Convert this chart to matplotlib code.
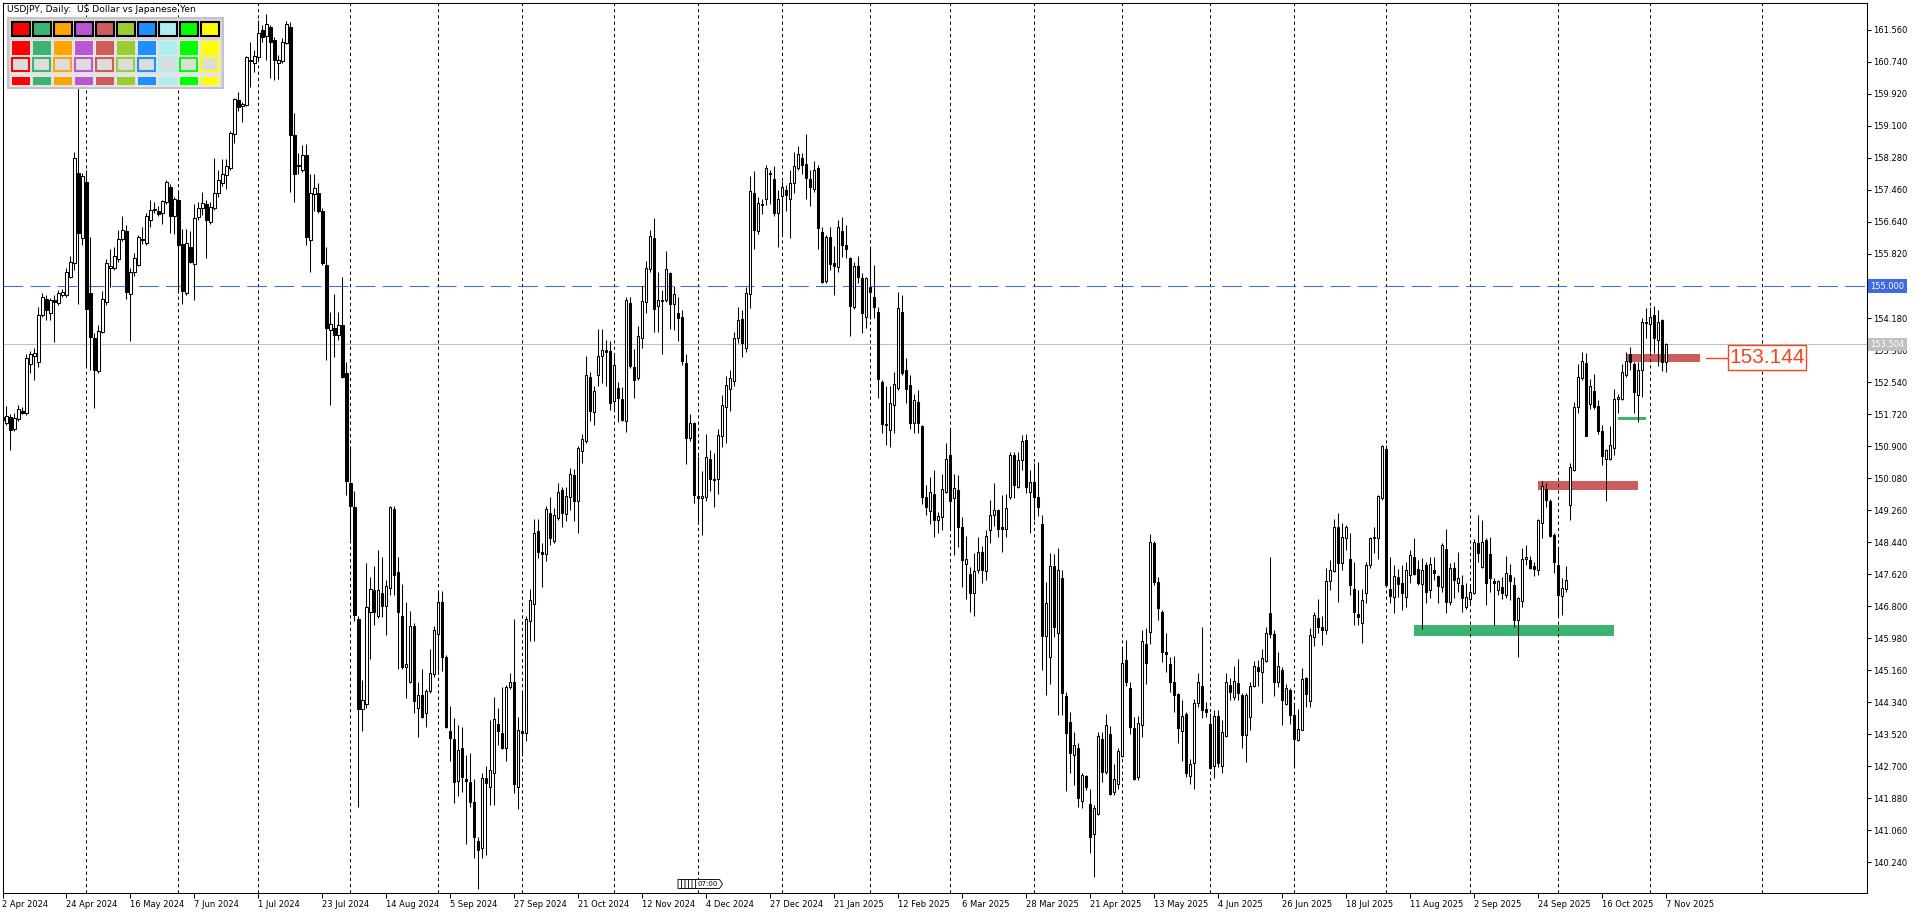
import numpy as np
import pandas as pd
import matplotlib
matplotlib.use("Agg")
import matplotlib.pyplot as plt
from matplotlib.patches import Rectangle, Polygon
import matplotlib.transforms as mtransforms

# USDJPY daily bars, 2 Apr 2024 .. 7 Nov 2025
opens = [
    151.65, 151.50, 151.65, 151.35, 151.60, 151.80, 151.75, 153.00, 153.20, 153.05,
    154.26, 154.68, 154.30, 154.64, 154.57, 154.77, 154.77, 155.22, 155.60, 157.90,
    156.22, 157.67, 154.83, 153.66, 152.83, 153.83, 154.60, 155.45, 155.45, 155.68,
    156.20, 156.42, 154.79, 155.37, 155.54, 156.17, 156.11, 156.70, 156.95, 156.92,
    156.86, 157.16, 157.54, 156.78, 157.20, 156.07, 154.83, 156.00, 155.56, 156.76,
    157.01, 157.10, 156.65, 156.99, 157.39, 157.65, 157.84, 158.01, 158.89, 159.76,
    159.61, 159.64, 160.80, 160.70, 160.86, 161.56, 161.40, 161.62, 161.30, 160.72,
    160.77, 161.23, 161.62, 158.87, 158.10, 157.97, 158.35, 156.19, 157.36, 157.39,
    156.93, 155.54, 153.87, 153.92, 153.74, 154.00, 152.78, 149.95, 149.34, 146.46,
    144.18, 144.29, 146.64, 147.21, 146.55, 147.13, 146.80, 147.27, 149.28, 147.68,
    146.56, 145.25, 144.87, 146.29, 144.20, 144.53, 144.06, 144.62, 145.06, 146.08,
    146.90, 145.49, 143.61, 143.39, 142.33, 143.16, 142.37, 142.31, 141.78, 140.78,
    140.60, 142.39, 142.17, 142.53, 143.78, 143.55, 143.18, 144.74, 144.86, 142.17,
    143.60, 143.55, 146.41, 146.86, 148.73, 148.20, 148.13, 149.19, 148.48, 149.07,
    149.78, 149.16, 149.60, 150.16, 149.50, 150.77, 151.04, 152.66, 151.78, 152.72,
    153.22, 153.36, 153.33, 152.05, 152.39, 152.10, 151.54, 154.56, 152.92, 152.64,
    153.68, 154.60, 155.43, 156.24, 154.48, 154.65, 154.65, 155.33, 154.54, 154.30,
    154.20, 153.02, 151.10, 151.50, 149.62, 149.56, 149.59, 150.56, 150.07, 150.05,
    151.16, 151.90, 152.35, 152.58, 153.66, 154.15, 153.40, 154.80, 157.37, 156.42,
    157.10, 157.24, 157.90, 157.73, 156.86, 157.30, 157.46, 157.22, 157.63, 158.01,
    158.29, 158.12, 157.73, 157.48, 158.01, 156.39, 155.14, 156.26, 155.58, 155.48,
    156.42, 156.05, 155.71, 154.47, 155.51, 155.20, 154.21, 154.98, 154.71, 154.34,
    152.55, 151.47, 151.31, 151.95, 152.40, 154.34, 152.85, 152.46, 151.48, 152.04,
    151.41, 149.59, 149.25, 149.67, 149.02, 149.08, 149.73, 150.67, 149.56, 149.78,
    148.82, 147.88, 147.62, 147.15, 147.73, 148.20, 147.71, 148.74, 149.14, 149.26,
    148.82, 148.77, 149.59, 150.67, 149.86, 150.54, 151.06, 149.73, 149.99, 149.59,
    148.91, 146.04, 145.49, 147.83, 146.11, 147.51, 144.50, 143.84, 142.99, 143.16,
    141.82, 142.45, 141.73, 140.96, 141.49, 143.40, 142.55, 143.54, 142.03, 142.25,
    142.96, 145.41, 144.70, 143.67, 142.42, 143.76, 145.83, 146.15, 148.41, 147.43,
    146.66, 145.64, 145.32, 144.87, 144.56, 143.60, 144.04, 142.45, 142.78, 144.33,
    144.76, 144.18, 143.79, 142.70, 144.00, 142.71, 143.47, 144.78, 144.48, 144.84,
    144.53, 143.51, 143.97, 144.76, 145.24, 145.11, 145.40, 146.63, 146.10, 144.87,
    145.17, 144.30, 144.65, 144.01, 143.37, 143.63, 144.95, 144.38, 146.00, 146.50,
    146.28, 146.20, 147.45, 147.70, 148.84, 147.90, 148.54, 148.00, 147.23, 146.60,
    146.37, 147.15, 147.86, 148.54, 148.54, 149.56, 150.82, 147.23, 147.04, 147.54,
    147.40, 147.03, 147.60, 148.06, 147.75, 147.36, 147.85, 147.22, 147.73, 147.57,
    147.29, 148.26, 146.92, 147.77, 147.40, 147.34, 146.79, 146.98, 147.14, 148.41,
    147.81, 148.50, 148.14, 147.44, 147.22, 147.29, 147.08, 147.60, 147.34, 146.45,
    146.94, 148.00, 147.99, 147.83, 147.73, 148.94, 149.79, 149.50, 148.62, 147.86,
    147.07, 147.23, 149.39, 150.29, 151.89, 152.64, 153.04, 151.98, 152.31, 151.93,
    151.28, 150.56, 150.58, 150.85, 152.10, 152.10, 152.73, 153.27, 153.01, 152.22,
    152.84, 154.04, 154.03, 154.26, 153.63, 154.12, 153.06,
]
highs = [
    151.77, 151.93, 151.72, 151.76, 151.95, 151.90, 153.26, 153.34, 153.40, 154.45,
    154.81, 154.77, 154.70, 154.77, 154.90, 154.92, 155.45, 155.77, 158.44, 160.20,
    157.90, 157.97, 156.26, 153.79, 154.00, 154.88, 155.69, 155.96, 156.00, 156.43,
    156.78, 156.55, 155.45, 155.84, 156.31, 156.52, 156.87, 157.20, 157.14, 157.05,
    157.21, 157.71, 157.62, 157.28, 157.46, 156.47, 156.47, 156.42, 157.09, 157.16,
    157.40, 157.20, 157.16, 158.27, 157.97, 158.24, 158.24, 158.96, 159.82, 159.97,
    159.72, 160.88, 161.26, 161.05, 161.81, 161.69, 161.97, 161.68, 161.38, 160.91,
    161.34, 161.79, 161.77, 159.44, 158.40, 158.61, 158.63, 157.88, 157.88, 157.63,
    156.99, 156.01, 154.34, 154.80, 154.34, 155.24, 153.05, 150.90, 149.76, 146.54,
    144.90, 147.90, 147.54, 147.84, 148.24, 148.05, 147.48, 149.37, 149.37, 148.07,
    147.36, 146.92, 146.67, 146.37, 144.85, 145.20, 144.68, 145.71, 146.29, 147.22,
    147.20, 145.55, 144.25, 143.93, 143.77, 143.70, 142.98, 143.04, 142.37, 140.90,
    142.53, 142.72, 143.88, 144.47, 144.19, 144.73, 144.77, 145.09, 146.48, 143.96,
    144.60, 146.54, 147.24, 149.03, 149.03, 148.41, 149.36, 149.60, 149.31, 149.96,
    149.86, 149.86, 150.34, 150.31, 150.90, 151.20, 153.20, 152.80, 152.43, 153.89,
    153.89, 153.62, 153.60, 153.27, 152.55, 152.41, 154.72, 154.72, 153.39, 153.97,
    155.00, 155.63, 156.44, 156.75, 155.37, 154.89, 155.90, 155.36, 155.00, 154.72,
    154.39, 153.26, 151.72, 151.52, 150.65, 150.27, 151.22, 150.80, 150.73, 151.35,
    152.21, 152.69, 152.86, 153.83, 154.47, 154.39, 154.98, 157.82, 157.95, 157.27,
    157.22, 158.09, 157.97, 158.07, 157.46, 157.70, 157.59, 157.97, 158.42, 158.59,
    158.41, 158.89, 157.97, 158.19, 158.10, 156.52, 156.31, 156.52, 156.02, 156.69,
    156.76, 156.57, 155.73, 155.62, 155.77, 155.33, 155.24, 155.96, 155.54, 154.47,
    152.59, 152.45, 152.45, 152.81, 154.84, 154.76, 153.15, 152.72, 152.23, 152.34,
    151.43, 149.90, 150.12, 150.29, 149.21, 150.19, 150.99, 151.36, 150.19, 150.16,
    149.09, 148.60, 147.81, 148.15, 148.57, 148.33, 148.74, 149.52, 149.96, 149.30,
    149.65, 149.67, 150.76, 150.76, 150.76, 151.19, 151.22, 150.29, 150.48, 150.50,
    149.14, 147.43, 148.15, 148.14, 148.28, 147.73, 144.61, 144.10, 143.59, 143.31,
    142.54, 142.48, 142.12, 141.70, 143.59, 143.57, 144.04, 143.73, 142.76, 143.16,
    145.72, 145.94, 144.87, 143.97, 143.99, 146.19, 146.24, 148.65, 148.48, 147.56,
    146.70, 146.11, 145.51, 145.53, 144.58, 144.41, 144.10, 142.90, 144.42, 145.08,
    146.28, 144.35, 144.06, 144.13, 144.14, 143.89, 145.08, 144.95, 145.26, 145.46,
    144.59, 144.57, 144.87, 145.40, 145.42, 145.71, 146.28, 148.06, 146.19, 145.63,
    145.25, 144.82, 144.70, 144.27, 144.18, 145.23, 145.00, 146.23, 146.65, 146.98,
    146.55, 147.77, 147.98, 149.03, 149.19, 148.92, 148.88, 148.67, 147.94, 147.22,
    147.23, 147.94, 148.58, 148.82, 149.66, 150.94, 150.93, 148.07, 147.86, 147.75,
    147.86, 147.92, 148.24, 148.54, 147.98, 148.03, 147.94, 148.07, 148.07, 147.60,
    148.43, 148.79, 147.90, 147.94, 148.20, 147.60, 147.40, 147.38, 148.51, 149.14,
    149.01, 148.54, 148.58, 147.51, 147.47, 147.54, 148.09, 147.87, 147.55, 147.04,
    148.28, 148.38, 148.09, 147.92, 149.03, 150.00, 149.96, 149.54, 148.67, 148.28,
    147.51, 147.83, 150.48, 152.04, 153.00, 153.32, 153.28, 152.63, 152.75, 152.07,
    151.43, 150.83, 151.41, 152.37, 152.24, 153.01, 153.31, 153.44, 153.05, 153.05,
    154.17, 154.43, 154.45, 154.49, 154.39, 154.15, 153.54,
]
lows = [
    151.53, 151.44, 150.80, 151.29, 151.55, 151.72, 151.70, 152.76, 152.60, 152.93,
    154.20, 154.13, 154.13, 153.57, 154.51, 154.72, 154.72, 155.20, 155.40, 154.55,
    156.05, 152.98, 152.85, 151.87, 152.76, 153.79, 154.51, 154.98, 155.40, 155.62,
    156.15, 154.68, 153.60, 155.25, 155.50, 156.08, 156.05, 156.52, 156.87, 156.80,
    156.60, 157.11, 156.37, 156.34, 154.90, 154.54, 154.78, 155.58, 154.64, 156.68,
    156.81, 155.71, 156.59, 156.94, 157.29, 157.55, 157.49, 157.97, 158.67, 159.47,
    159.20, 159.60, 160.10, 160.49, 160.79, 161.26, 160.79, 160.32, 160.28, 160.30,
    160.71, 161.21, 157.42, 157.16, 157.88, 157.93, 156.05, 155.37, 156.91, 156.86,
    155.54, 153.10, 151.95, 153.17, 153.63, 152.64, 149.65, 148.50, 146.43, 141.67,
    143.61, 144.20, 145.44, 146.31, 146.49, 146.52, 146.07, 147.10, 147.08, 145.19,
    145.19, 144.46, 144.84, 144.07, 143.45, 143.93, 143.71, 144.58, 145.00, 145.14,
    145.14, 143.67, 142.84, 141.77, 141.95, 142.05, 140.72, 141.66, 140.36, 139.57,
    140.36, 140.43, 141.72, 141.72, 143.25, 143.14, 142.84, 144.68, 142.02, 141.61,
    142.96, 143.35, 145.91, 145.91, 148.03, 147.28, 147.96, 148.36, 148.42, 149.01,
    148.83, 148.98, 149.27, 148.97, 148.68, 150.48, 150.99, 151.54, 151.43, 152.43,
    152.52, 152.43, 151.83, 151.83, 151.53, 151.54, 151.25, 152.89, 152.13, 152.60,
    153.42, 154.31, 155.37, 153.83, 153.83, 153.27, 154.59, 153.89, 153.87, 153.60,
    152.98, 150.45, 151.03, 149.45, 148.99, 148.62, 149.50, 149.76, 149.35, 149.68,
    150.88, 150.97, 151.81, 152.45, 153.53, 153.17, 153.31, 154.43, 155.96, 156.34,
    156.84, 157.07, 157.10, 156.80, 155.99, 156.33, 156.91, 156.24, 157.37, 157.97,
    157.88, 157.22, 157.04, 157.41, 155.95, 155.07, 155.07, 155.41, 154.77, 155.37,
    155.73, 155.71, 153.72, 154.42, 155.07, 153.80, 153.93, 154.15, 154.17, 152.12,
    151.23, 150.94, 150.87, 151.23, 152.33, 152.72, 152.00, 151.33, 151.23, 151.23,
    149.42, 149.13, 148.91, 148.58, 148.68, 148.74, 149.69, 148.78, 148.11, 148.32,
    147.30, 146.98, 146.64, 146.54, 147.64, 147.40, 147.46, 148.42, 148.85, 148.56,
    148.19, 148.58, 149.55, 149.56, 149.82, 150.29, 149.70, 148.67, 149.00, 149.10,
    145.17, 144.53, 144.82, 146.00, 144.01, 144.01, 142.08, 142.52, 142.22, 141.67,
    141.62, 142.10, 140.48, 139.87, 141.46, 142.30, 142.50, 141.97, 141.97, 142.13,
    142.94, 144.75, 143.54, 142.35, 142.35, 143.44, 144.82, 145.83, 147.35, 146.45,
    145.38, 145.11, 144.61, 144.08, 143.29, 142.84, 142.43, 142.26, 142.12, 144.23,
    143.95, 143.97, 142.63, 142.40, 142.68, 142.52, 143.46, 144.39, 144.39, 144.39,
    143.17, 142.81, 143.63, 144.72, 144.76, 144.33, 145.36, 145.98, 144.50, 144.74,
    143.76, 144.26, 143.78, 142.69, 143.35, 143.63, 144.21, 144.21, 145.77, 146.12,
    145.80, 146.10, 147.22, 147.67, 146.90, 147.73, 148.23, 147.09, 146.31, 146.31,
    145.85, 146.87, 147.78, 148.16, 148.00, 149.53, 147.30, 146.87, 146.62, 147.04,
    146.70, 146.79, 147.39, 147.59, 147.35, 146.21, 146.87, 147.00, 147.47, 146.87,
    147.16, 146.62, 146.84, 147.00, 147.16, 146.66, 146.72, 146.87, 147.12, 147.94,
    147.77, 146.84, 147.16, 146.32, 147.09, 146.98, 147.00, 146.96, 146.28, 145.51,
    146.79, 147.85, 147.75, 147.58, 147.61, 148.54, 149.35, 148.58, 147.64, 146.53,
    146.57, 147.17, 149.01, 150.25, 151.76, 152.60, 151.15, 151.84, 151.85, 151.22,
    150.41, 149.50, 150.54, 150.68, 151.76, 152.07, 152.67, 152.84, 151.76, 151.53,
    152.17, 153.66, 153.32, 153.28, 152.95, 152.83, 152.81,
]
closes = [
    151.56, 151.67, 151.31, 151.61, 151.86, 151.75, 153.15, 153.26, 153.29, 154.26,
    154.71, 154.39, 154.64, 154.60, 154.83, 154.84, 155.37, 155.62, 158.27, 156.35,
    157.82, 154.40, 153.69, 152.85, 153.86, 154.66, 155.60, 155.50, 155.77, 156.20,
    156.43, 154.85, 155.37, 155.71, 156.25, 156.20, 156.78, 156.95, 156.97, 156.85,
    157.18, 157.67, 156.78, 157.22, 156.05, 154.88, 156.11, 155.62, 156.73, 157.01,
    157.13, 156.69, 157.03, 157.37, 157.71, 157.87, 158.07, 158.93, 159.80, 159.58,
    159.66, 160.86, 160.77, 160.89, 161.47, 161.38, 161.71, 161.26, 160.79, 160.80,
    161.26, 161.71, 158.87, 157.88, 158.07, 158.35, 156.25, 157.39, 157.50, 156.93,
    155.58, 153.92, 154.03, 153.75, 154.00, 152.68, 150.01, 149.37, 146.57, 144.18,
    144.41, 146.78, 147.25, 146.64, 147.21, 146.80, 147.33, 149.35, 147.60, 146.64,
    145.24, 145.32, 146.29, 144.37, 144.53, 143.97, 144.62, 145.09, 146.20, 146.90,
    145.49, 143.71, 143.43, 142.31, 143.11, 142.42, 142.32, 141.78, 140.88, 140.55,
    142.40, 142.27, 142.61, 143.90, 143.60, 143.16, 144.74, 144.86, 142.25, 143.63,
    143.55, 146.48, 146.95, 148.68, 148.20, 148.13, 149.30, 148.54, 149.13, 149.72,
    149.19, 149.62, 150.19, 149.50, 150.84, 151.07, 152.72, 151.81, 152.31, 153.22,
    153.36, 153.30, 152.01, 152.98, 152.13, 151.58, 154.64, 152.95, 152.60, 153.71,
    154.62, 155.46, 156.28, 154.42, 154.63, 154.62, 155.43, 154.54, 154.80, 154.19,
    153.09, 151.12, 151.50, 149.65, 149.56, 149.61, 150.61, 150.07, 150.02, 151.18,
    151.95, 152.46, 152.64, 153.66, 154.13, 153.53, 154.83, 157.44, 156.43, 157.13,
    157.07, 158.01, 157.86, 156.86, 157.22, 157.53, 157.33, 157.63, 158.07, 158.38,
    158.10, 157.76, 157.53, 157.97, 156.48, 155.11, 156.26, 155.56, 155.50, 156.52,
    156.05, 155.94, 154.49, 155.51, 155.24, 154.30, 155.20, 154.85, 154.47, 152.61,
    151.47, 151.43, 152.00, 152.49, 154.43, 152.76, 152.35, 151.50, 152.08, 151.48,
    149.59, 149.33, 149.73, 149.02, 149.11, 149.80, 150.56, 149.50, 149.82, 148.82,
    147.98, 148.00, 147.15, 147.71, 148.20, 147.73, 148.60, 149.14, 149.26, 148.79,
    148.77, 149.31, 150.67, 149.90, 150.54, 151.02, 149.86, 149.99, 149.60, 149.33,
    146.04, 146.89, 147.83, 146.28, 147.73, 144.59, 143.56, 143.05, 143.25, 141.88,
    142.48, 142.16, 140.89, 141.64, 143.48, 142.55, 143.75, 142.00, 142.37, 143.08,
    145.34, 144.85, 143.70, 142.37, 143.82, 145.92, 145.35, 148.45, 147.43, 146.75,
    145.64, 145.58, 144.87, 144.53, 143.68, 144.00, 142.53, 142.77, 144.31, 144.87,
    144.14, 144.10, 142.66, 144.00, 142.78, 143.59, 144.87, 144.61, 144.89, 144.57,
    143.51, 144.53, 144.76, 145.27, 145.15, 145.47, 146.11, 146.10, 144.87, 145.27,
    144.40, 144.70, 144.01, 143.41, 143.66, 144.93, 144.55, 146.06, 146.57, 146.28,
    146.20, 147.45, 147.73, 148.84, 147.90, 148.58, 148.82, 147.34, 146.66, 146.52,
    146.97, 147.85, 148.54, 148.58, 149.62, 150.90, 147.35, 147.06, 147.57, 147.37,
    147.13, 147.74, 148.11, 147.63, 147.39, 147.74, 147.17, 147.89, 147.66, 147.32,
    148.37, 146.92, 147.77, 147.46, 147.53, 147.00, 147.03, 147.17, 148.45, 148.17,
    148.45, 147.39, 147.51, 147.39, 147.44, 147.13, 147.66, 147.45, 146.45, 147.00,
    148.00, 148.05, 147.79, 147.76, 149.01, 149.88, 149.52, 148.60, 147.94, 147.09,
    147.26, 147.47, 150.36, 151.91, 152.68, 153.07, 151.16, 152.43, 151.91, 151.28,
    150.65, 150.79, 150.94, 152.11, 152.16, 152.80, 153.09, 153.05, 152.29, 152.84,
    154.09, 154.09, 154.20, 153.66, 154.09, 153.06, 153.504,
]

date_labels = ['2 Apr 2024', '24 Apr 2024', '16 May 2024', '7 Jun 2024', '1 Jul 2024',
               '23 Jul 2024', '14 Aug 2024', '5 Sep 2024', '27 Sep 2024', '21 Oct 2024',
               '12 Nov 2024', '4 Dec 2024', '27 Dec 2024', '21 Jan 2025', '12 Feb 2025',
               '6 Mar 2025', '28 Mar 2025', '21 Apr 2025', '13 May 2025', '4 Jun 2025',
               '26 Jun 2025', '18 Jul 2025', '11 Aug 2025', '2 Sep 2025', '24 Sep 2025',
               '16 Oct 2025', '7 Nov 2025']
label_step = 16
price_ticks = [round(140.24 + 0.82 * k, 3) for k in range(27)]

# chart objects: (first bar, last bar, low, high, colour)
zones = [
    (353, 403, 146.04, 146.32, '#3CB371'),
    (404, 411, 151.58, 151.65, '#3CB371'),
    (384, 409, 149.78, 150.01, '#CD5C5C'),
    (406, 424.5, 153.06, 153.26, '#CD5C5C'),
]
level_line = 155.000
bid_price = 153.504
marked_price = 153.144
palette = ['#FF0000', '#3CB371', '#FFA500', '#BA55D3', '#CD5C5C',
           '#9ACD32', '#1E90FF', '#AFEEEE', '#00FF00', '#FFFF00']
tag_text = '07:00'

W, H = 1920, 915
fig = plt.figure(figsize=(19.2, 9.15), dpi=100)
L_PX, R_PX, T_PX, B_PX = 2.5, 1867, 2.5, 893
ax = fig.add_axes([L_PX / W, 1 - B_PX / H, (R_PX - L_PX) / W, (B_PX - T_PX) / H])

o = np.array(opens)
c = np.array(closes)
hi = np.maximum(np.array(highs), np.maximum(o, c))
lo = np.minimum(np.array(lows), np.minimum(o, c))
x = np.arange(len(c))

# month separators (bars are trading days, future bars are calendar days like MT4)
dates = pd.bdate_range('2024-04-02', '2025-11-07')
dates = dates[~(((dates.month == 12) & (dates.day == 25)) | ((dates.month == 1) & (dates.day == 1)))]
future = pd.date_range(dates[-1] + pd.Timedelta(days=1), periods=80, freq='D')
alld = dates.append(future)
mon = np.array(alld.month)
for i in range(1, len(alld)):
    if mon[i] != mon[i - 1] and i < 466:
        ax.axvline(i, color='black', lw=0.75, ls=(0, (3, 3)), zorder=1.5)

for z0, z1, zl, zh, col in zones:
    ax.add_patch(Rectangle((z0, zl), z1 - z0, zh - zl, facecolor=col, edgecolor='none', zorder=1))

ax.axhline(level_line, color='#4169E1', lw=0.75, dashes=(19, 7), zorder=2)
ax.axhline(bid_price, color='#C0C0C0', lw=0.75, zorder=2)

# candles
ax.vlines(x, lo, hi, color='black', lw=0.75, zorder=3)
up = c >= o
bot = np.minimum(o, c)
hgt = np.abs(c - o)
ax.bar(x[up], hgt[up], bottom=bot[up], width=0.55, color='white', edgecolor='black',
       linewidth=0.75, zorder=4)
ax.bar(x[~up], hgt[~up], bottom=bot[~up], width=0.55, color='black', edgecolor='black',
       linewidth=0.75, zorder=4)

# price marker 153.144
ax.plot([426, 431.5], [marked_price, marked_price], color='#F0461E', lw=1.0, zorder=5)
ax.add_patch(Rectangle((431.5, 152.85), 19.4, 0.64, facecolor='white', edgecolor='#F0461E',
                       lw=1.0, zorder=5))
ax.text(441.2, 153.165, f'{marked_price:.3f}', color='#F0461E', fontsize=15,
        family='Liberation Sans', ha='center', va='center', zorder=6)

ax.set_xlim(0.125, 466.25)
ax.set_ylim(139.456, 162.26)
for s in ax.spines.values():
    s.set_linewidth(0.75)
    s.set_color('black')

ax.yaxis.tick_right()
ax.set_yticks(price_ticks)
ax.set_yticklabels([f'{v:.3f}' for v in price_ticks])
ax.tick_params(axis='y', direction='out', length=3, width=0.75, labelsize=6.0, pad=1.5,
               left=False, right=True)
ax.set_xticks([k * label_step for k in range(len(date_labels))])
ax.set_xticklabels(date_labels)
ax.tick_params(axis='x', direction='out', length=3.5, width=0.75, labelsize=6.0, pad=1.5,
               top=False)
for t in ax.get_xticklabels():
    t.set_horizontalalignment('left')

trans = mtransforms.blended_transform_factory(ax.transAxes, ax.transData)
ax.text(1.0018, level_line, f'{level_line:.3f}', transform=trans, ha='left', va='center',
        fontsize=6.0, color='white', clip_on=False, zorder=10,
        bbox=dict(boxstyle='square,pad=0.25', fc='#4169E1', ec='none'))
ax.text(1.0018, bid_price, f'{bid_price:.3f}', transform=trans, ha='left', va='center',
        fontsize=6.0, color='white', clip_on=False, zorder=10,
        bbox=dict(boxstyle='square,pad=0.25', fc='#C0C0C0', ec='none'))

# overlay in pixel coordinates for the panel and small tags
ov = fig.add_axes([0, 0, 1, 1], zorder=5)
ov.set_xlim(0, W)
ov.set_ylim(H, 0)
ov.axis('off')
ov.patch.set_alpha(0)

ov.text(7, 10, 'USDJPY, Daily:  US Dollar vs Japanese Yen', fontsize=6.6, ha='left', va='center')

ov.add_patch(Rectangle((8, 18), 215, 70, facecolor='#D6D6D6', edgecolor='#C4C4C4', lw=1.5))
ov.add_patch(Rectangle((10, 20), 211, 18, facecolor='#DADADA', edgecolor='none'))
ov.add_patch(Rectangle((10, 39.5), 211, 47, facecolor='#E4E4E4', edgecolor='none'))
for k, col in enumerate(palette):
    x0 = 11.7 + 21 * k
    ov.add_patch(Rectangle((x0, 21.7), 18.3, 14.3, facecolor=col, edgecolor='black', lw=1.5))
    ov.add_patch(Rectangle((x0, 40.7), 18.3, 14.3, facecolor=col, edgecolor='none'))
    ov.add_patch(Rectangle((x0 + 0.7, 58.4), 16.9, 12.6, facecolor='#DCDCDC', edgecolor=col, lw=1.5))
    ov.add_patch(Rectangle((x0, 76.7), 18.3, 8.5, facecolor=col, edgecolor='none'))

# stacked time tags near the bottom; only the top one is readable
tag_x = [678, 681.5, 685, 688.5, 692, 695.5]
for n, tx in enumerate(tag_x):
    ov.add_patch(Polygon([(tx, 879.5), (tx + 24, 879.5), (tx + 27, 884), (tx + 24, 888.5), (tx, 888.5)],
                         closed=True, facecolor='white', edgecolor='black', lw=0.6, zorder=2 + n))
ov.text(tag_x[-1] + 12.5, 884.2, tag_text, fontsize=5, ha='center', va='center', zorder=20)

fig.savefig('out.png', dpi=100)
